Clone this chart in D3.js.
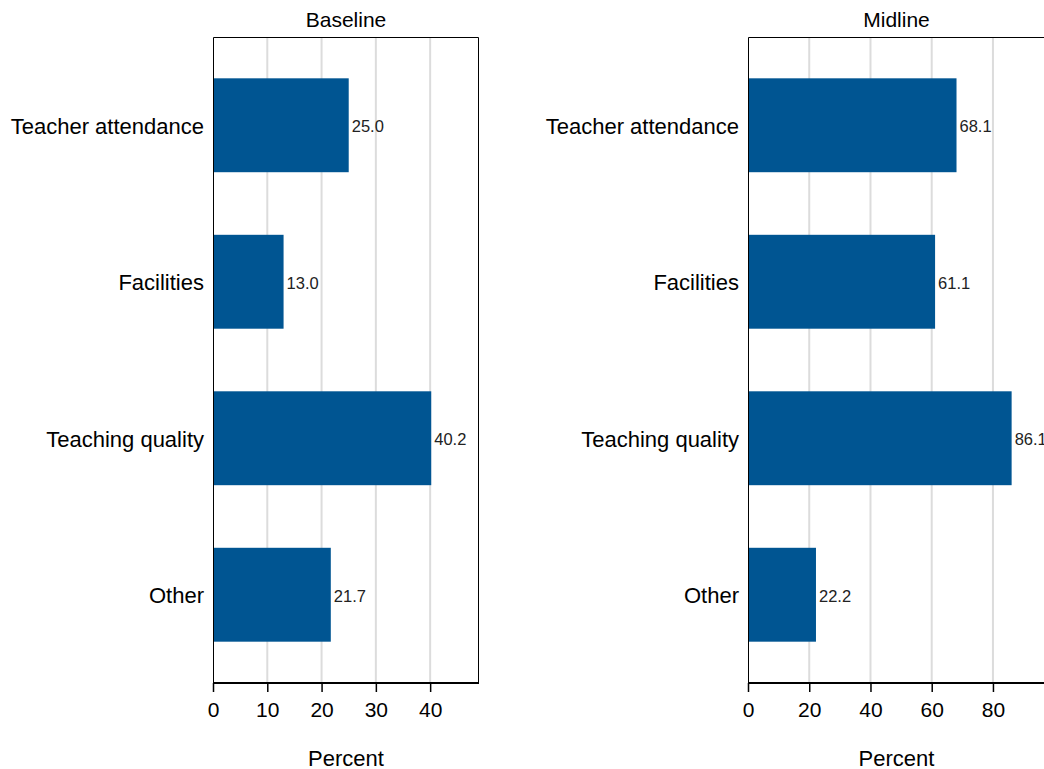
<!DOCTYPE html>
<html>
<head>
<meta charset="utf-8">
<script src="https://cdn.jsdelivr.net/npm/d3@7"></script>
<style>
  body { margin: 0; background: #fff; }
  svg { display: block; font-family: "Liberation Sans", Arial, sans-serif; }
</style>
</head>
<body>
<svg id="chart" width="1044" height="769"></svg>
<script>
// Reasons, shared by both panels
const categories = ["Teacher attendance", "Facilities", "Teaching quality", "Other"];
const baselineValues = [25.0, 13.0, 40.2, 21.7];
const midlineValues = [68.1, 61.1, 86.1, 22.2];
const baselineTicks = [0, 10, 20, 30, 40];
const midlineTicks = [0, 20, 40, 60, 80];

const panels = [
  { title: "Baseline", values: baselineValues, ticks: baselineTicks, max: 49, x0: 213, x1: 479 },
  { title: "Midline", values: midlineValues, ticks: midlineTicks, max: 97, x0: 748, x1: 1045 }
];

const svg = d3.select("#chart");
const plotTop = 37, plotBottom = 683;
const barColor = "#005592";

const y = d3.scaleBand()
  .domain(categories)
  .range([plotTop, plotBottom])
  .paddingInner(0.4)
  .paddingOuter(0.264);

panels.forEach(p => {
  const x = d3.scaleLinear().domain([0, p.max]).range([p.x0, p.x1]);
  const g = svg.append("g");

  // vertical gridlines
  g.selectAll("line.grid")
    .data(p.ticks.filter(t => t > 0))
    .join("line")
    .attr("class", "grid")
    .attr("x1", d => x(d)).attr("x2", d => x(d))
    .attr("y1", plotTop).attr("y2", plotBottom)
    .attr("stroke", "#dcdcdc").attr("stroke-width", 2);

  // bars
  g.selectAll("rect.bar")
    .data(p.values)
    .join("rect")
    .attr("class", "bar")
    .attr("x", x(0))
    .attr("y", (d, i) => y(categories[i]))
    .attr("width", d => x(d) - x(0))
    .attr("height", y.bandwidth())
    .attr("fill", barColor);

  // value labels
  g.selectAll("text.val")
    .data(p.values)
    .join("text")
    .attr("class", "val")
    .attr("x", d => x(d) + 3)
    .attr("y", (d, i) => y(categories[i]) + y.bandwidth() / 2 + 1)
    .attr("dy", "0.35em")
    .attr("font-size", 16.5)
    .attr("fill", "#222")
    .text(d => d.toFixed(1));

  // frame: top, left, right
  g.append("path")
    .attr("d", `M${p.x0 + 0.5},${plotBottom}V${plotTop + 0.5}H${p.x1 - 0.5}V${plotBottom}`)
    .attr("fill", "none").attr("stroke", "#000").attr("stroke-width", 1);

  // bottom axis
  const axis = g.append("g")
    .attr("transform", `translate(0,${plotBottom})`)
    .call(d3.axisBottom(x).tickValues(p.ticks).tickSize(9).tickPadding(10).tickSizeOuter(0));
  axis.select(".domain").attr("stroke", "#000").attr("stroke-width", 2)
    .attr("d", `M${p.x0},0H${p.x1}`);
  axis.selectAll(".tick line").attr("stroke", "#000").attr("stroke-width", 1.5);
  axis.selectAll(".tick text").attr("font-size", 21).attr("fill", "#000")
    .attr("font-family", "Liberation Sans, Arial, sans-serif");

  // category labels
  g.selectAll("text.cat")
    .data(categories)
    .join("text")
    .attr("class", "cat")
    .attr("x", p.x0 - 9)
    .attr("y", d => y(d) + y.bandwidth() / 2 + 1)
    .attr("dy", "0.35em")
    .attr("text-anchor", "end")
    .attr("font-size", 22)
    .attr("fill", "#000")
    .text(d => d);

  // panel title
  g.append("text")
    .attr("x", (p.x0 + p.x1) / 2)
    .attr("y", 27)
    .attr("text-anchor", "middle")
    .attr("font-size", 21)
    .attr("fill", "#000")
    .text(p.title);

  // axis title
  g.append("text")
    .attr("x", (p.x0 + p.x1) / 2)
    .attr("y", 766)
    .attr("text-anchor", "middle")
    .attr("font-size", 22)
    .attr("fill", "#000")
    .text("Percent");
});
</script>
</body>
</html>
